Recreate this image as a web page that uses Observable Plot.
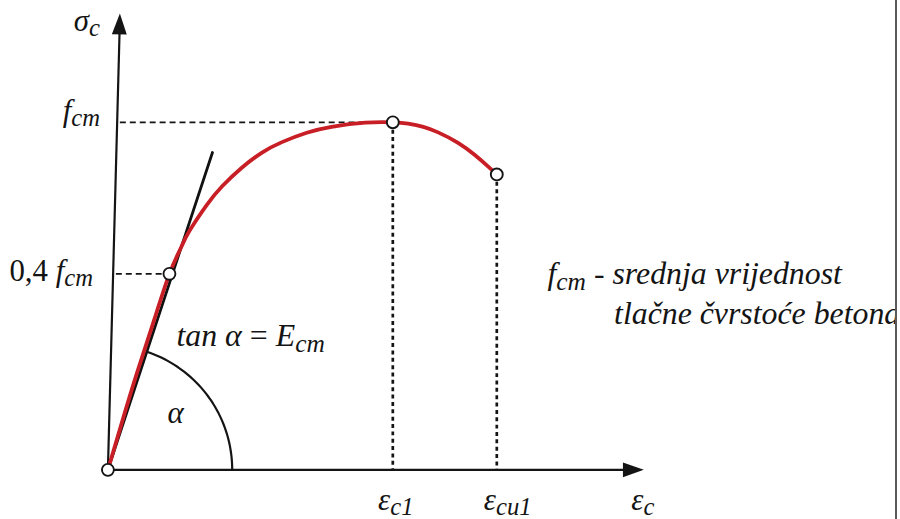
<!DOCTYPE html>
<html>
<head>
<meta charset="utf-8">
<script src="https://cdn.jsdelivr.net/npm/d3@7"></script>
<script src="https://cdn.jsdelivr.net/npm/@observablehq/plot@0.6"></script>
<style>
  html, body { margin: 0; padding: 0; background: #fff; }
  #chart { width: 895px; height: 519px; overflow: hidden; border-right: 2px solid #5a5a5a; }
  #chart svg { display: block; }
</style>
</head>
<body>
<div id="chart"></div>
<script>
// σ–ε curve, normalised: x = ε_c / ε_c1, y = σ_c / f_cm
const curveStrain = [0, 0.049, 0.101, 0.161, 0.216, 0.258, 0.286, 0.346, 0.401, 0.471, 0.541, 0.611, 0.698, 0.785, 0.904, 1, 1.054, 1.107, 1.159, 1.229, 1.288, 1.333, 1.365];
const curveStress = [0, 0.136, 0.276, 0.428, 0.564, 0.642, 0.687, 0.761, 0.816, 0.870, 0.913, 0.943, 0.970, 0.987, 0.999, 1, 0.996, 0.987, 0.971, 0.941, 0.906, 0.874, 0.850];

// marked points: origin, 0,4 f_cm, peak (ε_c1, f_cm), end (ε_cu1)
const keyStrain = [0, 0.216, 1, 1.365];
const keyStress = [0, 0.564, 1, 0.850];

// tangent line (E_cm) end point, axis ends
const tangentEnd = {x: 0.367, y: 0.913};
const xAxisEnd = 1.881;
const yAxisTop = {x: 0.042, y: 1.313};

// tick labels and texts
const yTickValues = [1, 0.564];
const yTickLabels = ["f_cm", "[0,4] f_cm"];
const yGuideStart = [0.042, 0.028];
const xTickValues = [1, 1.365];
const xTickLabels = ["ε_c1", "ε_cu1"];
const xAxisTitle = "ε_c";
const yAxisTitle = "σ_c";
const tangentLabel = "tan α [=] E_cm";
const angleLabel = "α";
const noteLines = ["f_cm - srednja vrijednost", "tlačne čvrstoće betona"];

// ---- build tables
const curve = curveStrain.map((x, i) => ({x, y: curveStress[i]}));
const keys = keyStrain.map((x, i) => ({x, y: keyStress[i]}));
const hGuides = [
  {x1: yGuideStart[0], x2: keyStrain[2], y: keyStress[2]},
  {x1: yGuideStart[1], x2: keyStrain[1], y: keyStress[1]}
];
const vGuides = [
  {x: keyStrain[2], y1: keyStress[2], y2: 0},
  {x: keyStrain[3], y1: keyStress[3], y2: 0}
];

const xOpt = {domain: [0, 1], range: [108, 394.5]};
const yOpt = {domain: [0, 1], range: [472, 122.5]};
const sx = Plot.scale({x: xOpt});
const sy = Plot.scale({y: yOpt});

// angle arc (geometric construction around the origin)
const ox = sx.apply(0), oy = sy.apply(0);
const ang = Math.atan2(oy - sy.apply(tangentEnd.y), sx.apply(tangentEnd.x) - ox);
const R = 125;
const arc = d3.range(0, 41).map(i => {
  const t = ang * i / 40;
  return {x: sx.invert(ox + R * Math.cos(t)), y: sy.invert(oy - R * Math.sin(t))};
});
const yRot = Math.atan2(sx.apply(yAxisTop.x) - ox, oy - sy.apply(yAxisTop.y)) * 180 / Math.PI;

const arrowHead = {draw(ctx) { ctx.moveTo(0, 0); ctx.lineTo(7.5, 21); ctx.lineTo(-7.5, 21); ctx.closePath(); }};

const ink = "#141414";
const SERIF = "Liberation Serif";
const font = {fontFamily: SERIF, fontStyle: "italic", fontSize: 31, fill: ink, lineAnchor: "middle"};

const plot = Plot.plot({
  width: 900,
  height: 519,
  margin: 0,
  x: {...xOpt, axis: null},
  y: {...yOpt, axis: null},
  style: {background: "white", overflow: "visible"},
  marks: [
    // guides
    Plot.link(hGuides, {x1: "x1", x2: "x2", y1: "y", y2: "y", stroke: ink, strokeWidth: 1.7, strokeDasharray: "6,4"}),
    Plot.link(vGuides, {x1: "x", x2: "x", y1: "y1", y2: "y2", stroke: ink, strokeWidth: 2.7, strokeDasharray: "4,3.4"}),
    // axes
    Plot.link([{x1: 0, y1: 0, x2: xAxisEnd - 0.02, y2: 0}], {x1: "x1", y1: "y1", x2: "x2", y2: "y2", stroke: ink, strokeWidth: 2.2}),
    Plot.link([{x1: 0, y1: 0, x2: yAxisTop.x, y2: yAxisTop.y - 0.02}], {x1: "x1", y1: "y1", x2: "x2", y2: "y2", stroke: ink, strokeWidth: 2.2}),
    Plot.dot([{x: xAxisEnd, y: 0}], {x: "x", y: "y", symbol: arrowHead, rotate: 90, fill: ink, stroke: "none"}),
    Plot.dot([yAxisTop], {x: "x", y: "y", symbol: arrowHead, rotate: yRot, fill: ink, stroke: "none"}),
    // tangent and angle arc
    Plot.link([{x1: 0, y1: 0, x2: tangentEnd.x, y2: tangentEnd.y}], {x1: "x1", y1: "y1", x2: "x2", y2: "y2", stroke: "#111", strokeWidth: 2.8, strokeLinecap: "round"}),
    Plot.line(arc, {x: "x", y: "y", stroke: ink, strokeWidth: 2.2}),
    // curve
    Plot.line(curve, {x: "x", y: "y", curve: "natural", stroke: "#c81e25", strokeWidth: 3.8}),
    Plot.dot(keys, {x: "x", y: "y", r: 6, fill: "white", stroke: ink, strokeWidth: 1.9}),
    // labels
    Plot.text([yTickLabels[0]], {x: () => 0, y: () => yTickValues[0], text: d => d, textAnchor: "end", dx: -8, dy: -11, ...font}),
    Plot.text([yTickLabels[1]], {x: () => 0, y: () => yTickValues[1], text: d => d, textAnchor: "end", dx: -15, dy: -2.6, ...font}),
    Plot.text([xTickLabels[0]], {x: () => xTickValues[0], y: () => 0, text: d => d, textAnchor: "middle", dx: 3, dy: 30.4, ...font}),
    Plot.text([xTickLabels[1]], {x: () => xTickValues[1], y: () => 0, text: d => d, textAnchor: "middle", dx: 11, dy: 30.4, ...font}),
    Plot.text([xAxisTitle], {x: () => xAxisEnd, y: () => 0, text: d => d, textAnchor: "middle", dx: -1, dy: 30.4, ...font}),
    Plot.text([yAxisTitle], {x: () => yAxisTop.x, y: () => yAxisTop.y, text: d => d, textAnchor: "end", dx: -20, dy: 7.3, ...font}),
    Plot.text([tangentLabel], {x: () => 0, y: () => 0, text: d => d, textAnchor: "start", dx: 69, dy: -134.6, ...font, fontSize: 32}),
    Plot.text([angleLabel], {x: () => 0, y: () => 0, text: d => d, textAnchor: "middle", dx: 68, dy: -56.6, ...font}),
    Plot.text([noteLines[0]], {frameAnchor: "top-left", text: d => d, textAnchor: "start", dx: 550, dy: 275, ...font, fontSize: 32}),
    Plot.text([noteLines[1]], {frameAnchor: "top-left", text: d => d, textAnchor: "start", dx: 617, dy: 315, ...font, fontSize: 32})
  ]
});

document.getElementById("chart").appendChild(plot);

// rich text: "_xx" → subscript, "[..]" → upright
const NS = "http://www.w3.org/2000/svg";
plot.querySelectorAll("text").forEach(t => {
  const s = t.textContent;
  if (!/[_\[]/.test(s)) return;
  const fs = parseFloat(getComputedStyle(t).fontSize) || 31;
  const shift = 0.17 * fs;
  t.textContent = "";
  const re = /\[([^\]]*)\]|_(\S+)|([^\[_]+)/g;
  let m, shifted = false;
  while ((m = re.exec(s))) {
    const ts = document.createElementNS(NS, "tspan");
    const isSub = m[2] != null;
    if (m[1] != null) { ts.textContent = m[1]; ts.setAttribute("font-style", "normal"); }
    else if (isSub) { ts.textContent = m[2]; ts.setAttribute("font-size", (0.8 * fs) + "px"); }
    else ts.textContent = m[3];
    if (isSub !== shifted) { ts.setAttribute("dy", isSub ? shift : -shift); shifted = isSub; }
    t.appendChild(ts);
  }
});
</script>
</body>
</html>
